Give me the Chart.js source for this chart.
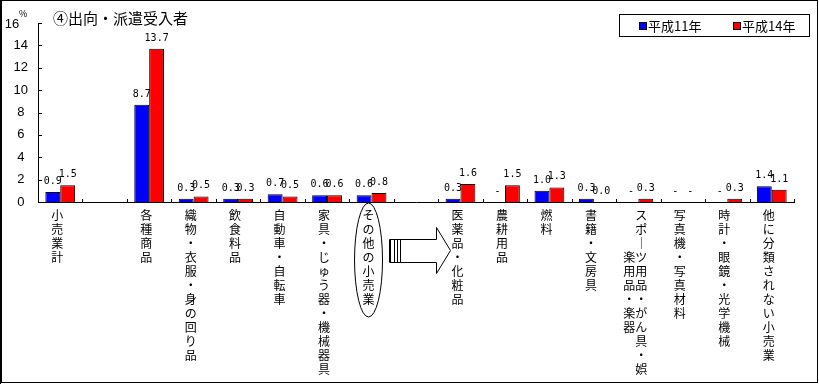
<!DOCTYPE html>
<html>
<head>
<meta charset="utf-8">
<script src="https://cdn.jsdelivr.net/npm/chart.js@4"></script>
<style>
html, body { margin: 0; padding: 0; background: #fff; }
#wrap { width: 819px; height: 385px; }
</style>
</head>
<body>
<div id="wrap"><canvas id="chart"></canvas></div>
<script>
// 業種（空欄はすき間）
const categories = ['小売業計', '', '各種商品', '織物・衣服・身の回り品', '飲食料品', '自動車・自転車',
  '家具・じゅう器・機械器具', 'その他の小売業', '', '医薬品・化粧品', '農耕用品', '燃料', '書籍・文房具',
  'スポーツ用品・がん具・娯楽用品・楽器', '写真機・写真材料', '時計・眼鏡・光学機械', '他に分類されない小売業'];
const h11 = [0.9, null, 8.7, 0.3, 0.3, 0.7, 0.6, 0.6, null, 0.3, null, 1.0, 0.3, null, null, null, 1.4]; // 平成11年
const h14 = [1.5, null, 13.7, 0.5, 0.3, 0.5, 0.6, 0.8, null, 1.6, 1.5, 1.3, 0.0, 0.3, null, 0.3, 1.1]; // 平成14年
const yTicks = [0, 2, 4, 6, 8, 10, 12, 14, 16];
const seriesNames = ['平成11年', '平成14年'];
const seriesColors = ['#0000ff', '#ff0000'];

const LABEL_SHIFT = -3;
const CJK = "'Noto Sans CJK JP', sans-serif";
const NUM = "'Liberation Sans', Arial, sans-serif";

// 縦書きラベル（12文字を超えたら2列に）
function vert(name) {
  const chars = [...name].map(c => c === 'ー' ? '｜' : c);
  if (chars.length <= 12) return chars;
  const right = chars.slice(0, 12);
  const left = chars.slice(12);
  const off = Math.floor((12 - left.length) / 2);
  return right.map((c, r) => {
    const l = (r >= off && r - off < left.length) ? left[r - off] : '　';
    return l + c;
  });
}

const decor = {
  id: 'decor',
  beforeDraw(chart) {
    const ctx = chart.ctx;
    ctx.save();
    ctx.fillStyle = '#fff';
    ctx.fillRect(0, 0, chart.width, chart.height);
    ctx.restore();
  },
  afterDraw(chart) {
    const ctx = chart.ctx;
    const xs = chart.scales.x, ys = chart.scales.y;
    const area = chart.chartArea;
    ctx.save();
    ctx.strokeStyle = '#000';
    ctx.fillStyle = '#000';

    // 外枠
    ctx.lineWidth = 1;
    ctx.strokeRect(1.5, 0.5, 816, 382);
    ctx.beginPath(); ctx.moveTo(0.5, 0); ctx.lineTo(0.5, 384); ctx.stroke();

    // 目盛（内向き）
    ctx.beginPath();
    yTicks.forEach(v => {
      const py = Math.round(ys.getPixelForValue(v)) + 0.5;
      ctx.moveTo(area.left, py); ctx.lineTo(area.left + 4, py);
    });
    const n = categories.length;
    for (let i = 1; i <= n; i++) {
      const px = Math.round(area.left + i * (area.right - area.left) / n) + 0.5;
      ctx.moveTo(px, area.bottom); ctx.lineTo(px, area.bottom - 3);
    }
    ctx.stroke();

    // 最上段の目盛ラベルと単位
    const top = yTicks[yTicks.length - 1];
    ctx.font = '13px ' + NUM;
    ctx.textAlign = 'center';
    ctx.textBaseline = 'middle';
    ctx.fillText(String(top), 12, ys.getPixelForValue(top) + 1);
    ctx.font = '9px ' + CJK;
    ctx.textAlign = 'left';
    ctx.fillText('%', 19, 14);

    // タイトル
    ctx.font = '15px ' + CJK;
    ctx.fillText('④出向・派遣受入者', 53, 18);

    // 凡例
    ctx.strokeRect(619.5, 14.5, 190, 22);
    ctx.font = '13px ' + CJK;
    [[639, 0], [733, 1]].forEach(([lx, d]) => {
      ctx.fillStyle = seriesColors[d];
      ctx.fillRect(lx, 22, 7, 7);
      ctx.strokeRect(lx + 0.5, 22.5, 7, 7);
      ctx.fillStyle = '#000';
      ctx.fillText(seriesNames[d], lx + 9, 26);
    });

    // データラベル
    ctx.font = '10px "DejaVu Sans Mono", monospace';
    ctx.textAlign = 'center';
    ctx.textBaseline = 'alphabetic';
    const slot = (area.right - area.left) / n;
    const bw = slot * 0.67 / 2;
    [h11, h14].forEach((vals, d) => {
      vals.forEach((v, i) => {
        if (!categories[i]) return;
        const px = xs.getPixelForValue(i) + (d === 0 ? -bw / 2 : bw / 2);
        const py = ys.getPixelForValue(v === null ? 0 : v);
        ctx.fillText(v === null ? '-' : v.toFixed(1), px, py - 8);
      });
    });

    // 楕円（その他の小売業）
    const ex = xs.getPixelForValue(7) + LABEL_SHIFT;
    ctx.beginPath();
    ctx.ellipse(ex, 260, 14, 57, 0, 0, Math.PI * 2);
    ctx.stroke();

    // 矢印
    const ax = xs.getPixelForValue(8);
    const L = Math.round(ax - 27) + 0.5, B = Math.round(ax + 20) + 0.5, T = Math.round(ax + 34) + 0.5;
    ctx.fillStyle = '#fff';
    ctx.beginPath();
    ctx.moveTo(L, 239.5); ctx.lineTo(B, 239.5); ctx.lineTo(B, 227.5); ctx.lineTo(T, 250.5);
    ctx.lineTo(B, 273.5); ctx.lineTo(B, 262.5); ctx.lineTo(L, 262.5); ctx.closePath();
    ctx.fill(); ctx.stroke();
    ctx.beginPath();
    [1, 5, 8, 11].forEach(o => { ctx.moveTo(L + o, 239.5); ctx.lineTo(L + o, 262.5); });
    ctx.stroke();

    ctx.restore();
  }
};

const config = {
  type: 'bar',
  data: {
    labels: categories.map(vert),
    datasets: [
      { label: seriesNames[0], data: h11, backgroundColor: seriesColors[0], borderColor: '#000', borderWidth: 1 },
      { label: seriesNames[1], data: h14, backgroundColor: seriesColors[1], borderColor: '#000', borderWidth: 1 }
    ]
  },
  options: {
    responsive: true,
    maintainAspectRatio: false,
    animation: false,
    layout: { padding: { top: 23, right: 25, bottom: 0, left: 0 } },
    datasets: { bar: { categoryPercentage: 0.67, barPercentage: 1.0 } },
    plugins: { legend: { display: false }, tooltip: { enabled: false } },
    scales: {
      x: {
        grid: { display: false, drawTicks: false },
        border: { display: true, color: '#000', width: 1 },
        ticks: {
          color: '#000', autoSkip: false, maxRotation: 0, minRotation: 0,
          padding: 6, labelOffset: LABEL_SHIFT,
          font: { family: CJK, size: 12, lineHeight: '14px' }
        },
        afterFit: s => { s.height = 183; }
      },
      y: {
        min: 0, max: 16,
        grid: { display: false, drawTicks: false },
        border: { display: true, color: '#000', width: 1 },
        ticks: {
          stepSize: 2, color: '#000', padding: 10, crossAlign: 'center',
          callback: v => (v === 16 ? '' : v),
          font: { family: NUM, size: 13 }
        },
        afterFit: s => { s.width = 38; }
      }
    }
  },
  plugins: [decor]
};

new Chart(document.getElementById('chart').getContext('2d'), config);
</script>
</body>
</html>
